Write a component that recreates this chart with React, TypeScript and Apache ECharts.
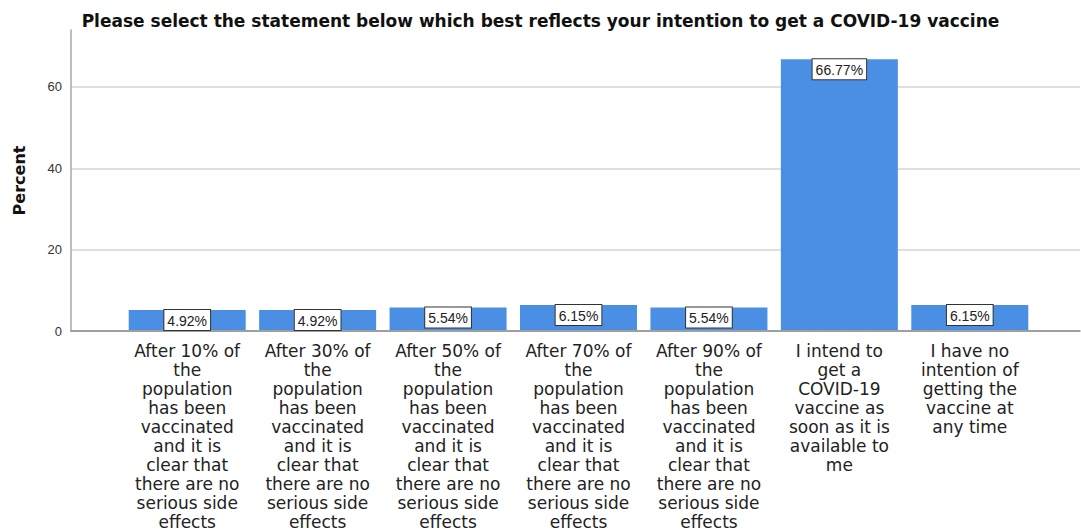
import React, { useEffect, useRef } from "react";
import * as echarts from "echarts";

const titleText =
  "Please select the statement below which best reflects your intention to get a COVID-19 vaccine";

const categories = [
  "After 10% of\nthe\npopulation\nhas been\nvaccinated\nand it is\nclear that\nthere are no\nserious side\neffects",
  "After 30% of\nthe\npopulation\nhas been\nvaccinated\nand it is\nclear that\nthere are no\nserious side\neffects",
  "After 50% of\nthe\npopulation\nhas been\nvaccinated\nand it is\nclear that\nthere are no\nserious side\neffects",
  "After 70% of\nthe\npopulation\nhas been\nvaccinated\nand it is\nclear that\nthere are no\nserious side\neffects",
  "After 90% of\nthe\npopulation\nhas been\nvaccinated\nand it is\nclear that\nthere are no\nserious side\neffects",
  "I intend to\nget a\nCOVID-19\nvaccine as\nsoon as it is\navailable to\nme",
  "I have no\nintention of\ngetting the\nvaccine at\nany time",
];

const percentValues = [4.92, 4.92, 5.54, 6.15, 5.54, 66.77, 6.15];

const yTickValues = [0, 20, 40, 60];

export default function App() {
  const ref = useRef<HTMLDivElement>(null);

  useEffect(() => {
    if (!ref.current) return;
    const chart = echarts.init(ref.current, null, { renderer: "svg" });
    const yMax = 74;
    chart.setOption({
      animation: false,
      backgroundColor: "#ffffff",
      title: {
        text: titleText,
        left: "center",
        top: 7,
        textStyle: {
          fontFamily: "DejaVu Sans, sans-serif",
          fontWeight: "bold",
          fontSize: 17,
          color: "#111",
        },
      },
      grid: [
        { left: 71, right: 1, top: 30, bottom: 200 },
        { left: 122, right: 46, top: 30, bottom: 200 },
      ],
      xAxis: [
        {
          gridIndex: 0,
          type: "value",
          min: 0,
          max: 1,
          axisLine: { show: true, lineStyle: { color: "#8a8a8a", width: 1.5 } },
          axisTick: { show: false },
          axisLabel: { show: false },
          splitLine: { show: false },
        },
        {
          gridIndex: 1,
          type: "category",
          data: categories,
          axisLine: { show: false },
          axisTick: { show: false },
          axisLabel: {
            interval: 0,
            margin: 11,
            fontFamily: "DejaVu Sans, sans-serif",
            fontSize: 17,
            lineHeight: 19,
            color: "#222",
            align: "center",
          },
        },
      ],
      yAxis: [
        {
          gridIndex: 0,
          type: "value",
          min: 0,
          max: yMax,
          interval: 20,
          name: "Percent",
          nameLocation: "middle",
          nameGap: 44,
          nameTextStyle: {
            fontFamily: "DejaVu Sans, sans-serif",
            fontWeight: "bold",
            fontSize: 16,
            color: "#111",
          },
          axisLine: { show: true, lineStyle: { color: "#a8a8a8", width: 1.5 } },
          axisTick: { show: false },
          axisLabel: {
            margin: 9,
            fontFamily: "Liberation Sans, Arial, sans-serif",
            fontSize: 13,
            color: "#333",
            formatter: (v: number) => (yTickValues.includes(v) ? String(v) : ""),
          },
          splitLine: {
            show: true,
            showMaxLine: false,
            lineStyle: { color: "#d4d4d4", width: 1.5 },
          },
        },
        {
          gridIndex: 1,
          type: "value",
          min: 0,
          max: yMax,
          show: false,
        },
      ],
      series: [
        {
          type: "bar",
          xAxisIndex: 1,
          yAxisIndex: 1,
          data: percentValues,
          barCategoryGap: "10.3%",
          itemStyle: { color: "#4a8fe3" },
          label: {
            show: true,
            position: "insideTop",
            distance: 0,
            formatter: (p: any) => p.value.toFixed(2) + "%",
            fontFamily: "Liberation Sans, Arial, sans-serif",
            fontSize: 14,
            lineHeight: 15,
            color: "#222",
            backgroundColor: "#ffffff",
            borderColor: "#333",
            borderWidth: 1,
            padding: [3, 3, 2, 3],
          },
        },
      ],
    });
    return () => chart.dispose();
  }, []);

  return (
    <div
      ref={ref}
      style={{ position: "fixed", left: 0, top: 0, width: 1081, height: 531 }}
    />
  );
}
